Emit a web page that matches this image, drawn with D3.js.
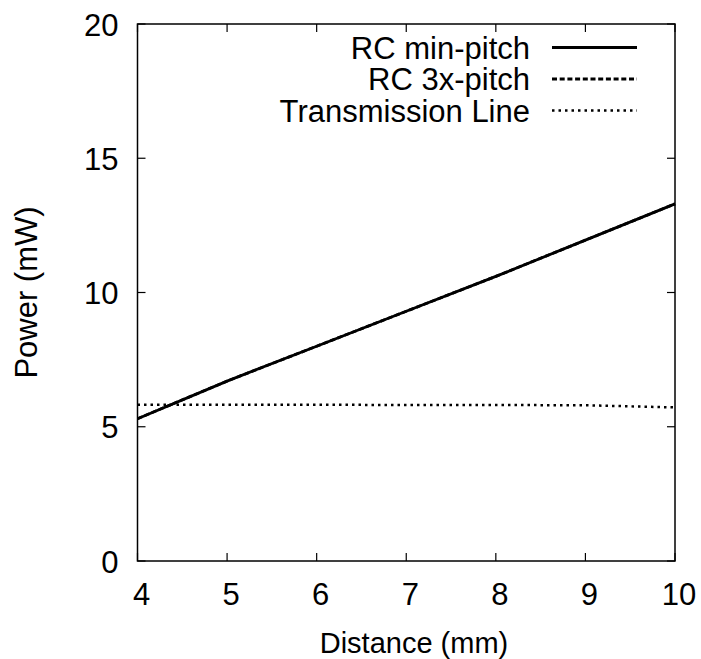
<!DOCTYPE html>
<html>
<head>
<meta charset="utf-8">
<script src="https://cdn.jsdelivr.net/npm/d3@7"></script>
<style>
  html, body { margin: 0; padding: 0; background: #fff; }
  svg text { font-family: "Liberation Sans", Arial, Helvetica, sans-serif; fill: #000; }
</style>
</head>
<body>
<svg id="chart" width="701" height="659"></svg>
<script>
// Wire distance (mm) and power (mW) for each signalling scheme
const distance = [4, 5, 6, 7, 8, 9, 10];
const rcMinPitch = [5.3, 6.7, 8.0, 9.3, 10.6, 11.95, 13.3];
const rc3xPitch = [5.3, 6.7, 8.0, 9.3, 10.6, 11.95, 13.3];
const transmissionLine = [5.82, 5.82, 5.82, 5.81, 5.81, 5.80, 5.72];
const xTicks = [4, 5, 6, 7, 8, 9, 10];
const yTicks = [0, 5, 10, 15, 20];
const seriesNames = ["RC min-pitch", "RC 3x-pitch", "Transmission Line"];

const svg = d3.select("#chart");
const plotLeft = 137.5, plotRight = 675, plotTop = 24, plotBottom = 561;

const x = d3.scaleLinear().domain([4, 10]).range([plotLeft, plotRight]);
const y = d3.scaleLinear().domain([0, 20]).range([plotBottom, plotTop]);

const fontSize = 31;
const tickLen = 8;

// Ticks on all four sides, pointing inward
const g = svg.append("g");
xTicks.forEach(t => {
  g.append("line").attr("x1", x(t)).attr("x2", x(t)).attr("y1", plotBottom).attr("y2", plotBottom - tickLen)
    .attr("stroke", "#000").attr("stroke-width", 1.2);
  g.append("line").attr("x1", x(t)).attr("x2", x(t)).attr("y1", plotTop).attr("y2", plotTop + tickLen)
    .attr("stroke", "#000").attr("stroke-width", 1.2);
  g.append("text").attr("x", x(t) + 4).attr("y", 605)
    .attr("text-anchor", "middle").attr("font-size", fontSize).text(t);
});
yTicks.forEach(t => {
  g.append("line").attr("x1", plotLeft).attr("x2", plotLeft + tickLen).attr("y1", y(t)).attr("y2", y(t))
    .attr("stroke", "#000").attr("stroke-width", 1.2);
  g.append("line").attr("x1", plotRight).attr("x2", plotRight - tickLen).attr("y1", y(t)).attr("y2", y(t))
    .attr("stroke", "#000").attr("stroke-width", 1.2);
  g.append("text").attr("x", plotLeft - 19).attr("y", y(t) + 11.5)
    .attr("text-anchor", "end").attr("font-size", fontSize).text(t);
});

// Plot frame
svg.append("rect").attr("x", plotLeft).attr("y", plotTop)
  .attr("width", plotRight - plotLeft).attr("height", plotBottom - plotTop)
  .attr("fill", "none").attr("stroke", "#000").attr("stroke-width", 1.5);

// Axis titles
svg.append("text").attr("x", 414).attr("y", 653)
  .attr("text-anchor", "middle").attr("font-size", 29).text("Distance (mm)");
svg.append("text").attr("transform", `translate(37,${(plotTop + plotBottom) / 2}) rotate(-90)`)
  .attr("text-anchor", "middle").attr("font-size", fontSize).text("Power (mW)");

// Series
const styles = [
  { data: rcMinPitch, dash: null, width: 2.8 },
  { data: rc3xPitch, dash: "5,2.7", width: 2.8 },
  { data: transmissionLine, dash: "2.5,4", width: 2.5 }
];
const line = d3.line().x((d, i) => x(distance[i])).y(d => y(d));

styles.forEach(s => {
  svg.append("path").datum(s.data).attr("d", line)
    .attr("fill", "none").attr("stroke", "#000").attr("stroke-width", s.width)
    .attr("stroke-dasharray", s.dash);
});

// Legend
const legendY = [47.5, 79, 110.5];
seriesNames.forEach((name, i) => {
  svg.append("text").attr("x", 530).attr("y", legendY[i] + 11)
    .attr("text-anchor", "end").attr("font-size", fontSize).text(name);
  svg.append("line").attr("x1", 552).attr("x2", 637).attr("y1", legendY[i]).attr("y2", legendY[i])
    .attr("stroke", "#000").attr("stroke-width", styles[i].width)
    .attr("stroke-dasharray", styles[i].dash);
});
</script>
</body>
</html>
